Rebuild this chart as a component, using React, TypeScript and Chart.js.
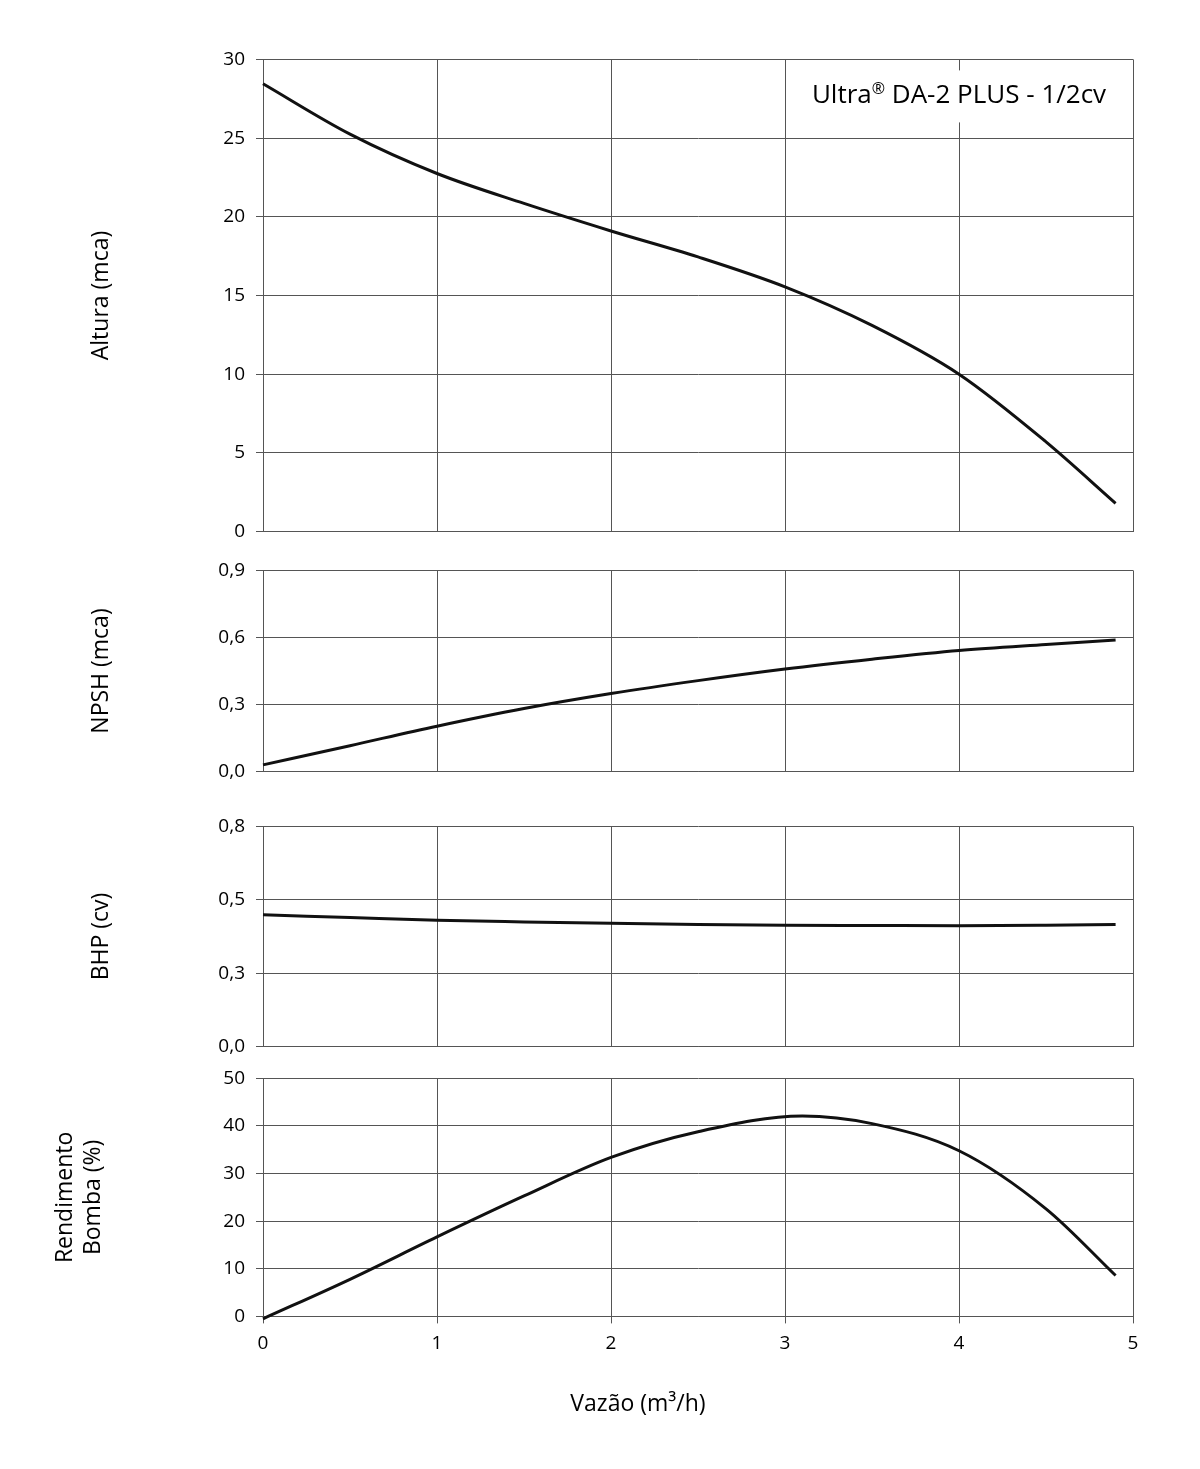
import { useEffect, useRef } from 'react';
import { Chart, registerables } from 'chart.js';

Chart.register(...registerables);
Chart.defaults.font.family = "'Open Sans', sans-serif";
Chart.defaults.color = '#000';

// flow readings (m3/h)
const flows = [0, 0.5, 1, 1.5, 2, 2.5, 3, 3.5, 4, 4.5, 4.9];
const flowsRendimento = [0, 0.5, 1, 1.5, 2, 2.5, 3.1, 3.5, 4, 4.5, 4.9];

const alturaValues = [28.45, 25.25, 22.75, 20.85, 19.1, 17.45, 15.55, 13.1, 10.0, 5.7, 1.8];
const npshValues = [0.03, 0.116, 0.203, 0.282, 0.349, 0.407, 0.459, 0.503, 0.542, 0.569, 0.589];
const bhpValues = [0.479, 0.469, 0.459, 0.453, 0.448, 0.444, 0.441, 0.44, 0.439, 0.441, 0.444];
const rendimentoValues = [-0.5, 7.8, 16.7, 25.3, 33.4, 38.8, 42.1, 40.5, 34.8, 22.6, 8.6];

// tick labels
const flowTicks = ['0', '1', '2', '3', '4', '5'];
const alturaTicks = ['0', '5', '10', '15', '20', '25', '30'];
const npshTicks = ['0,0', '0,3', '0,6', '0,9'];
const bhpTicks = ['0,0', '0,3', '0,5', '0,8'];
const rendimentoTicks = ['0', '10', '20', '30', '40', '50'];

const modelLabel = ['Ultra', '®', ' DA-2 PLUS - 1/2cv'];
const xTitle = 'Vazão (m³/h)';

const GRID = '#555';
const TICK_FONT = { size: 19 };
const TITLE_FONT = { size: 23, lineHeight: 1.2 };

interface Panel {
  top: number;
  height: number;
  width: number;
  flows: number[];
  values: number[];
  min: number;
  max: number;
  tickLabels: string[];
  title: string | string[];
  titlePad: number;
  last?: boolean;
  label?: boolean;
}

const panels: Panel[] = [
  { top: 37, height: 517, width: 1200, flows, values: alturaValues, min: 0, max: 30,
    tickLabels: alturaTicks, title: 'Altura (mca)', titlePad: 88, label: true },
  { top: 548, height: 246, width: 1200, flows, values: npshValues, min: 0, max: 0.9,
    tickLabels: npshTicks, title: 'NPSH (mca)', titlePad: 88 },
  { top: 804, height: 265, width: 1200, flows, values: bhpValues, min: 0, max: 0.8,
    tickLabels: bhpTicks, title: 'BHP (cv)', titlePad: 88 },
  { top: 1056, height: 372, width: 1276, flows: flowsRendimento, values: rendimentoValues, min: 0, max: 50,
    tickLabels: rendimentoTicks, title: ['Rendimento', 'Bomba (%)'], titlePad: 52, last: true },
];

// white box with the pump model, sitting over the x = 4 gridline
const modelLabelPlugin = {
  id: 'modelLabel',
  afterDraw(chart: any) {
    const { ctx, chartArea } = chart;
    const cx = chart.scales.x.getPixelForValue(4);
    ctx.save();
    ctx.font = "26px 'Open Sans', sans-serif";
    const w1 = ctx.measureText(modelLabel[0]).width;
    const w3 = ctx.measureText(modelLabel[2]).width;
    ctx.font = "16px 'Open Sans', sans-serif";
    const w2 = ctx.measureText(modelLabel[1]).width;
    const total = w1 + w2 + w3;
    const x0 = cx - total / 2;
    ctx.fillStyle = '#fff';
    ctx.fillRect(x0 - 14, chartArea.top + 11, total + 28, 52);
    ctx.fillStyle = '#000';
    ctx.textBaseline = 'alphabetic';
    ctx.textAlign = 'left';
    const base = chartArea.top + 44;
    ctx.font = "26px 'Open Sans', sans-serif";
    ctx.fillText(modelLabel[0], x0, base);
    ctx.fillText(modelLabel[2], x0 + w1 + w2, base);
    ctx.font = "16px 'Open Sans', sans-serif";
    ctx.fillText(modelLabel[1], x0 + w1, base - 9);
    ctx.restore();
  },
};

function PanelChart({ panel }: { panel: Panel }) {
  const canvasRef = useRef<HTMLCanvasElement | null>(null);

  useEffect(() => {
    if (!canvasRef.current) return;
    const p = panel;
    const points = p.flows.map((x, i) => ({ x, y: p.values[i] }));

    const scales: any = {
      x: {
        type: 'linear',
        min: 0,
        max: 5,
        ticks: {
          stepSize: 1,
          display: !!p.last,
          padding: 9,
          font: TICK_FONT,
          color: '#000',
          callback: (_v: any, i: number) => flowTicks[i],
        },
        grid: { color: GRID, lineWidth: 1, drawTicks: !!p.last, tickLength: 7 },
        border: { color: GRID },
        afterFit: p.last ? (s: any) => { s.height = 39; } : undefined,
      },
      y: {
        type: 'linear',
        min: p.min,
        max: p.max,
        ticks: {
          count: p.tickLabels.length,
          padding: 11,
          font: TICK_FONT,
          color: '#000',
          callback: (_v: any, i: number) => p.tickLabels[i],
        },
        grid: { color: GRID, lineWidth: 1, tickLength: 7 },
        border: { color: GRID },
        title: {
          display: true,
          text: p.title,
          font: TITLE_FONT,
          color: '#000',
          padding: { top: p.titlePad, bottom: 0 },
        },
        afterFit: (s: any) => { s.width = 263; },
      },
    };
    if (p.last) {
      // empty right-hand axis so the bottom title centres like the original
      scales.pad = {
        type: 'linear',
        position: 'right',
        display: true,
        grid: { display: false },
        ticks: { display: false },
        border: { display: false },
        afterFit: (s: any) => { s.width = 143; },
      };
    }

    const chart = new Chart(canvasRef.current, {
      type: 'line',
      data: {
        datasets: [{
          data: points,
          borderColor: '#111',
          borderWidth: 3,
          pointRadius: 0,
          cubicInterpolationMode: 'monotone',
          fill: false,
          clip: false as any,
        }],
      },
      options: {
        responsive: false,
        animation: false,
        layout: { padding: { top: 20, bottom: p.last ? 0 : 20, left: 0, right: p.last ? 0 : 67 } },
        plugins: {
          legend: { display: false },
          tooltip: { enabled: false },
          title: p.last
            ? {
                display: true,
                position: 'bottom',
                text: xTitle,
                color: '#000',
                font: { size: 23, lineHeight: 1.2, weight: 'normal' },
                padding: { top: 35, bottom: 10 },
              }
            : { display: false },
        },
        scales,
      } as any,
      plugins: p.label ? [modelLabelPlugin] : [],
    });

    return () => {
      chart.destroy();
    };
  }, [panel]);

  return (
    <canvas
      ref={canvasRef}
      width={panel.width}
      height={panel.height}
      style={{ position: 'absolute', left: 0, top: panel.top, width: panel.width, height: panel.height }}
    />
  );
}

export default function App() {
  return (
    <div
      style={{
        position: 'absolute',
        left: 0,
        top: 0,
        width: 1200,
        height: 1469,
        overflow: 'hidden',
        background: '#fff',
      }}
    >
      {panels.map((p, i) => (
        <PanelChart key={i} panel={p} />
      ))}
    </div>
  );
}
